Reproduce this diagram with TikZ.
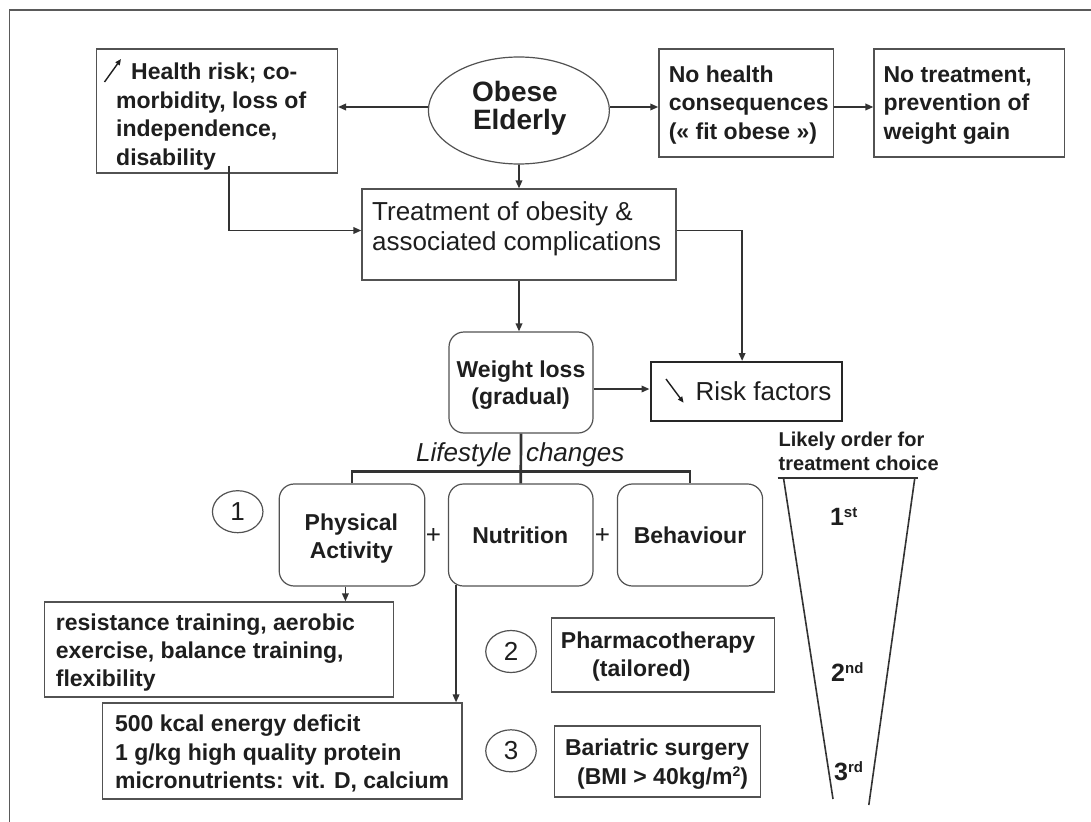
\documentclass[tikz,border=0pt]{standalone}
\usepackage{fontspec}
\setmainfont{Liberation Sans}
\usetikzlibrary{arrows.meta,shapes.geometric,calc}
\definecolor{lc}{HTML}{333333}
\definecolor{tc}{HTML}{1E1E1E}
\definecolor{fr}{HTML}{5A5A5A}
\newcommand\fB{\fontsize{23}{28.5}\selectfont\bfseries}
\newcommand\fBig{\fontsize{28}{30}\selectfont\bfseries}
\newcommand\fBs{\fontsize{20}{23}\selectfont\bfseries}
\newcommand\fR{\fontsize{26}{30}\selectfont}
\newcommand\fI{\fontsize{26}{30}\selectfont\itshape}
\newcommand\fNum{\fontsize{25}{28}\selectfont\bfseries}
\newcommand\supr[1]{\raisebox{8pt}{\fontsize{15}{15}\selectfont #1}}
\newcommand\supm[1]{\raisebox{8pt}{\fontsize{14}{14}\selectfont #1}}
\begin{document}
\begin{tikzpicture}[x=1pt,y=-1pt,
  bx/.style={draw=lc!85!white, line width=1.2pt, rectangle, inner sep=0pt},
  rbx/.style={bx, rounded corners=15pt},
  ell/.style={ellipse, draw=lc!85!white, line width=1.2pt, inner sep=0pt},
  arr/.style={draw=lc, line width=1.8pt, -{Triangle[length=8pt,width=6.5pt]}},
  sarr/.style={draw=tc, line width=1.4pt, -{Triangle[length=6pt,width=5pt]}},
  tree/.style={draw=lc, line width=2.7pt},
  fun/.style={draw=lc, line width=1.6pt},
  txt/.style={inner sep=0pt, anchor=base west, text=tc, font=\fB},
  ctxt/.style={inner sep=0pt, anchor=base, text=tc, font=\fB}]
\useasboundingbox (0,0) rectangle (1091,821);
\fill[white] (0,0) rectangle (1091,821);
\draw[draw=fr, line width=1.5pt] (9.4,830) -- (9.4,10) -- (1100,10);

% boxes
\node[bx, minimum width=241pt, minimum height=124pt] (health) at (216.9,111) {};
\node[ell, minimum width=181pt, minimum height=107pt] (ellp) at (518.9,110.5) {};
\node[bx, minimum width=174.4pt, minimum height=108pt] (nohealth) at (746.1,103) {};
\node[bx, minimum width=190.8pt, minimum height=108pt] (notreat) at (969.4,103) {};
\node[bx, minimum width=314pt, minimum height=91pt] (treat) at (519,234.5) {};
\node[rbx, minimum width=144pt, minimum height=101pt] (wl) at (521,382.5) {};
\node[bx, line width=2pt, draw=black!85, minimum width=191.2pt, minimum height=59pt] (risk) at (746.1,391.5) {};
\node[rbx, minimum width=145.6pt, minimum height=102pt] (phys) at (352,535) {};
\node[rbx, minimum width=144.5pt, minimum height=102pt] (nutr) at (520.75,535) {};
\node[rbx, minimum width=145.2pt, minimum height=102pt] (beh) at (690,535) {};
\node[bx, minimum width=348.9pt, minimum height=95pt] (res) at (219,649.5) {};
\node[bx, minimum width=359.3pt, minimum height=96pt] (nbox) at (282.3,751) {};
\node[bx, minimum width=223.5pt, minimum height=74pt] (pharm) at (663,655) {};
\node[bx, minimum width=206.5pt, minimum height=71pt] (bari) at (657.6,761.5) {};
\node[ell, minimum width=50.5pt, minimum height=42pt, font=\fR, text=tc] (c1) at (237.7,511.7) {1};
\node[ell, minimum width=50.5pt, minimum height=42pt, font=\fR, text=tc] (c2) at (511,651.5) {2};
\node[ell, minimum width=50.5pt, minimum height=42pt, font=\fR, text=tc] (c3) at (511,750.8) {3};

% connectors
\coordinate (ey) at ($(ellp.west)+(0,-3.5)$);
\coordinate (ey2) at ($(ellp.east)+(0,-3.5)$);
\draw[arr] (ey) -- (health.east |- ey);
\draw[arr] (ey2) -- (nohealth.west |- ey2);
\draw[arr] (nohealth.east |- ey2) -- (notreat.west |- ey2);
\draw[arr] (ellp.south) -- (treat.north);
\draw[arr] (treat.south) -- (treat.south |- wl.north);
\coordinate (hs) at ($(health.south)+(12,-8)$);
\coordinate (tw) at ($(treat.west)+(0,-4)$);
\draw[arr] (hs) |- (tw);
\coordinate (te) at ($(treat.east)+(0,-4)$);
\coordinate (rn) at ($(risk.north)+(-4,0)$);
\draw[arr] (te) -| (rn);
\coordinate (rw) at ($(risk.west)+(0,-2.5)$);
\draw[arr] (wl.east |- rw) -- (rw);
\draw[tree] (wl.south) -- (nutr.north);
\draw[tree] (phys.north) -- ++(0,-12) -| (beh.north);
\coordinate (ps) at ($(phys.south)+(-6.6,0)$);
\draw[arr] (ps) -- (ps |- res.north);
\coordinate (ns) at ($(nutr.south)+(-64.7,-2)$);
\draw[arr] (ns) -- (ns |- nbox.north);

% funnel
\draw[fun] (777.6,478) -- (917.6,478);
\draw[fun] (783.5,478) -- (833,799);
\draw[fun] (914.8,478) -- (868.8,805);

% small diagonal arrows
\draw[sarr] (104.5,82) -- (121,59);
\draw[sarr] (666,379) -- (683.6,402.7);

% texts
\node[txt] (h1) at (131,80) {Health risk; co-};
\node[txt] (h2) at (116,108.5) {morbidity, loss of};
\node[txt] (h3) at (116,137) {independence,};
\node[txt] (h4) at (116,165) {disability};
\node[ctxt, font=\fBig] (o1) at (515,101.5) {Obese};
\node[ctxt, font=\fBig] (o2) at (519.7,129.5) {Elderly};
\node[txt] (n1) at (668.6,82.5) {No health};
\node[txt] (n2) at (668.6,111) {consequences};
\node[txt] (n3) at (668.6,139.5) {(« fit obese »)};
\node[txt] (m1) at (883.4,82.5) {No treatment,};
\node[txt] (m2) at (883.4,111) {prevention of};
\node[txt] (m3) at (883.4,139.5) {weight gain};
\node[txt, font=\fR] (tr1) at (372,220) {Treatment of obesity \&};
\node[txt, font=\fR] (tr2) at (372,250) {associated complications};
\node[ctxt] (w1) at (521,377) {Weight loss};
\node[ctxt] (w2) at (520.6,404.5) {(gradual)};
\node[txt, font=\fR] (rf) at (695.4,400) {Risk factors};
\node[inner sep=0pt, anchor=base east, text=tc, font=\fI] (ls1) at (511.8,461) {Lifestyle};
\node[txt, font=\fI] (ls2) at (525.8,461) {changes};
\node[txt, font=\fBs] (lk1) at (778.5,446.7) {Likely order for};
\node[txt, font=\fBs] (lk2) at (778.5,470) {treatment choice};
\node[ctxt] (p1) at (351.4,530) {Physical};
\node[ctxt] (p2) at (351.3,558) {Activity};
\node[ctxt] (nu) at (520.2,543) {Nutrition};
\node[ctxt] (be) at (690,543) {Behaviour};
\node[inner sep=0pt, text=tc, font=\fR] (pl1) at (433.5,536) {+};
\node[inner sep=0pt, text=tc, font=\fR] (pl2) at (602.5,536) {+};
\node[txt] (r1) at (55.7,630) {resistance training, aerobic};
\node[txt] (r2) at (55.7,658) {exercise, balance training,};
\node[txt] (r3) at (55.7,686.5) {flexibility};
\node[txt] (q1) at (114.9,731.7) {500 kcal energy deficit};
\node[txt] (q2) at (114.9,760) {1 g/kg high quality protein};
\node[txt] (q3) at (114.9,788) {micronutrients: vit. D, calcium};
\node[txt] (ph1) at (560.7,648) {Pharmacotherapy};
\node[txt] (ph2) at (592,676.5) {(tailored)};
\node[txt] (ba1) at (564.8,755) {Bariatric surgery};
\node[txt] (ba2) at (577,784) {(BMI > 40kg/m\supm{2})};
\node[txt, font=\fNum] (o1st) at (829.8,525) {1\supr{st}};
\node[txt, font=\fNum] (o2nd) at (831,681.7) {2\supr{nd}};
\node[txt, font=\fNum] (o3rd) at (834,780) {3\supr{rd}};
\end{tikzpicture}
\end{document}
